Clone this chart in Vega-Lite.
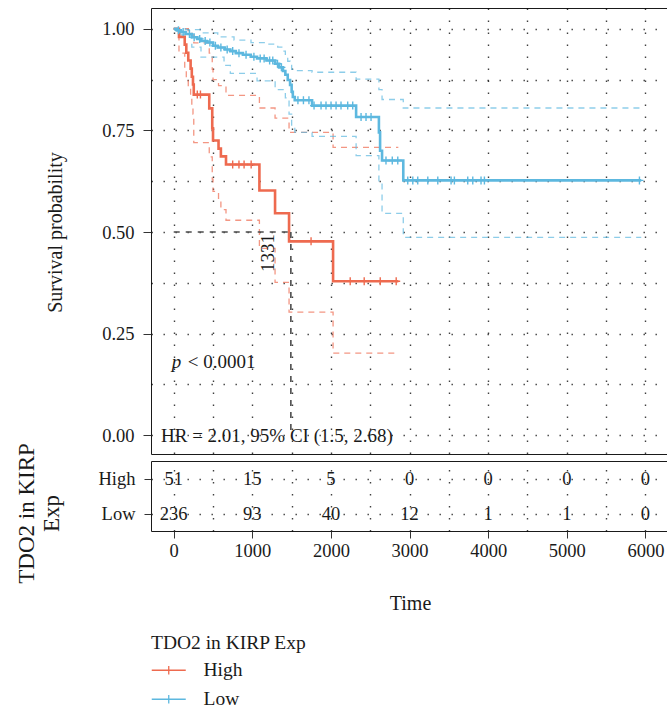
{
  "$schema": "https://vega.github.io/schema/vega-lite/v6.json",
  "background": "white",
  "padding": {"left": 14, "top": 7, "right": 0, "bottom": 0},
  "bounds": "flush",
  "spacing": 7,
  "config": {
    "font": "Liberation Serif",
    "view": {"stroke": "#1a1a1a", "strokeWidth": 1},
    "axis": {
      "labelFont": "Liberation Serif",
      "labelFontSize": 18.5,
      "labelColor": "#1a1a1a",
      "titleFont": "Liberation Serif",
      "titleFontSize": 19,
      "titleFontWeight": "normal",
      "titleColor": "#1a1a1a",
      "tickColor": "#333333",
      "tickWidth": 1,
      "domain": false,
      "gridColor": "#000000",
      "gridDash": [1.4, 10.6],
      "gridWidth": 1.4,
      "gridOpacity": 0.75
    },
    "legend": {
      "orient": "none",
      "legendX": 0,
      "legendY": 626,
      "titleFont": "Liberation Serif",
      "titleFontSize": 19.5,
      "titleFontWeight": "normal",
      "titleColor": "#1a1a1a",
      "titlePadding": 7,
      "labelFont": "Liberation Serif",
      "labelFontSize": 19.5,
      "labelColor": "#1a1a1a",
      "labelOffset": 25,
      "symbolType": "M-2,0H2M0,-0.5V0.5",
      "symbolSize": 289,
      "symbolStrokeWidth": 1.3,
      "symbolOffset": 8,
      "symbolOpacity": 1,
      "symbolFillColor": "transparent",
      "rowPadding": 8
    },
    "text": {"font": "Liberation Serif"}
  },
  "datasets": {
    "km": [
      {"g": "High", "k": "est", "t": 0, "s": 1},
      {"g": "High", "k": "est", "t": 67, "s": 0.98},
      {"g": "High", "k": "est", "t": 140, "s": 0.961},
      {"g": "High", "k": "est", "t": 160, "s": 0.941},
      {"g": "High", "k": "est", "t": 185, "s": 0.922},
      {"g": "High", "k": "est", "t": 215, "s": 0.902},
      {"g": "High", "k": "est", "t": 230, "s": 0.882},
      {"g": "High", "k": "est", "t": 245, "s": 0.863},
      {"g": "High", "k": "est", "t": 255, "s": 0.838},
      {"g": "High", "k": "est", "t": 452, "s": 0.804},
      {"g": "High", "k": "est", "t": 490, "s": 0.755},
      {"g": "High", "k": "est", "t": 500, "s": 0.725},
      {"g": "High", "k": "est", "t": 570, "s": 0.705},
      {"g": "High", "k": "est", "t": 600, "s": 0.686},
      {"g": "High", "k": "est", "t": 665, "s": 0.666},
      {"g": "High", "k": "est", "t": 1090, "s": 0.602},
      {"g": "High", "k": "est", "t": 1289, "s": 0.546},
      {"g": "High", "k": "est", "t": 1467, "s": 0.477},
      {"g": "High", "k": "est", "t": 2027, "s": 0.379},
      {"g": "High", "k": "est", "t": 2857, "s": 0.379},

      {"g": "High", "k": "upper", "t": 0, "s": 1},
      {"g": "High", "k": "upper", "t": 185, "s": 0.995},
      {"g": "High", "k": "upper", "t": 230, "s": 0.985},
      {"g": "High", "k": "upper", "t": 255, "s": 0.965},
      {"g": "High", "k": "upper", "t": 452, "s": 0.94},
      {"g": "High", "k": "upper", "t": 490, "s": 0.9},
      {"g": "High", "k": "upper", "t": 500, "s": 0.875},
      {"g": "High", "k": "upper", "t": 570, "s": 0.86},
      {"g": "High", "k": "upper", "t": 665, "s": 0.836},
      {"g": "High", "k": "upper", "t": 1090, "s": 0.805},
      {"g": "High", "k": "upper", "t": 1289, "s": 0.78},
      {"g": "High", "k": "upper", "t": 1467, "s": 0.745},
      {"g": "High", "k": "upper", "t": 2027, "s": 0.708},
      {"g": "High", "k": "upper", "t": 2857, "s": 0.708},

      {"g": "High", "k": "lower", "t": 0, "s": 1},
      {"g": "High", "k": "lower", "t": 67, "s": 0.94},
      {"g": "High", "k": "lower", "t": 140, "s": 0.9},
      {"g": "High", "k": "lower", "t": 160, "s": 0.875},
      {"g": "High", "k": "lower", "t": 185, "s": 0.855},
      {"g": "High", "k": "lower", "t": 215, "s": 0.83},
      {"g": "High", "k": "lower", "t": 230, "s": 0.81},
      {"g": "High", "k": "lower", "t": 245, "s": 0.79},
      {"g": "High", "k": "lower", "t": 255, "s": 0.72},
      {"g": "High", "k": "lower", "t": 452, "s": 0.685},
      {"g": "High", "k": "lower", "t": 490, "s": 0.63},
      {"g": "High", "k": "lower", "t": 500, "s": 0.6},
      {"g": "High", "k": "lower", "t": 570, "s": 0.58},
      {"g": "High", "k": "lower", "t": 600, "s": 0.555},
      {"g": "High", "k": "lower", "t": 665, "s": 0.529},
      {"g": "High", "k": "lower", "t": 1090, "s": 0.46},
      {"g": "High", "k": "lower", "t": 1289, "s": 0.376},
      {"g": "High", "k": "lower", "t": 1467, "s": 0.303},
      {"g": "High", "k": "lower", "t": 2027, "s": 0.202},
      {"g": "High", "k": "lower", "t": 2857, "s": 0.202},

      {"g": "Low", "k": "est", "t": 0, "s": 1},
      {"g": "Low", "k": "est", "t": 40, "s": 0.996},
      {"g": "Low", "k": "est", "t": 90, "s": 0.992},
      {"g": "Low", "k": "est", "t": 150, "s": 0.987},
      {"g": "Low", "k": "est", "t": 230, "s": 0.979},
      {"g": "Low", "k": "est", "t": 300, "s": 0.975},
      {"g": "Low", "k": "est", "t": 350, "s": 0.97},
      {"g": "Low", "k": "est", "t": 420, "s": 0.966},
      {"g": "Low", "k": "est", "t": 500, "s": 0.958},
      {"g": "Low", "k": "est", "t": 560, "s": 0.954},
      {"g": "Low", "k": "est", "t": 650, "s": 0.949},
      {"g": "Low", "k": "est", "t": 720, "s": 0.945},
      {"g": "Low", "k": "est", "t": 790, "s": 0.94},
      {"g": "Low", "k": "est", "t": 880, "s": 0.936},
      {"g": "Low", "k": "est", "t": 980, "s": 0.931},
      {"g": "Low", "k": "est", "t": 1060, "s": 0.927},
      {"g": "Low", "k": "est", "t": 1180, "s": 0.922},
      {"g": "Low", "k": "est", "t": 1290, "s": 0.914},
      {"g": "Low", "k": "est", "t": 1340, "s": 0.905},
      {"g": "Low", "k": "est", "t": 1390, "s": 0.896},
      {"g": "Low", "k": "est", "t": 1420, "s": 0.887},
      {"g": "Low", "k": "est", "t": 1450, "s": 0.874},
      {"g": "Low", "k": "est", "t": 1480, "s": 0.862},
      {"g": "Low", "k": "est", "t": 1500, "s": 0.845},
      {"g": "Low", "k": "est", "t": 1515, "s": 0.832},
      {"g": "Low", "k": "est", "t": 1540, "s": 0.824},
      {"g": "Low", "k": "est", "t": 1760, "s": 0.811},
      {"g": "Low", "k": "est", "t": 2320, "s": 0.783},
      {"g": "Low", "k": "est", "t": 2610, "s": 0.745},
      {"g": "Low", "k": "est", "t": 2625, "s": 0.7},
      {"g": "Low", "k": "est", "t": 2650, "s": 0.676},
      {"g": "Low", "k": "est", "t": 2920, "s": 0.627},
      {"g": "Low", "k": "est", "t": 5947, "s": 0.627},

      {"g": "Low", "k": "upper", "t": 0, "s": 1},
      {"g": "Low", "k": "upper", "t": 150, "s": 0.998},
      {"g": "Low", "k": "upper", "t": 347, "s": 0.99},
      {"g": "Low", "k": "upper", "t": 560, "s": 0.98},
      {"g": "Low", "k": "upper", "t": 767, "s": 0.972},
      {"g": "Low", "k": "upper", "t": 983, "s": 0.966},
      {"g": "Low", "k": "upper", "t": 1196, "s": 0.962},
      {"g": "Low", "k": "upper", "t": 1323, "s": 0.955},
      {"g": "Low", "k": "upper", "t": 1390, "s": 0.945},
      {"g": "Low", "k": "upper", "t": 1420, "s": 0.935},
      {"g": "Low", "k": "upper", "t": 1450, "s": 0.92},
      {"g": "Low", "k": "upper", "t": 1480, "s": 0.91},
      {"g": "Low", "k": "upper", "t": 1500, "s": 0.9},
      {"g": "Low", "k": "upper", "t": 1540, "s": 0.897},
      {"g": "Low", "k": "upper", "t": 1760, "s": 0.893},
      {"g": "Low", "k": "upper", "t": 2320, "s": 0.876},
      {"g": "Low", "k": "upper", "t": 2610, "s": 0.85},
      {"g": "Low", "k": "upper", "t": 2650, "s": 0.826},
      {"g": "Low", "k": "upper", "t": 2920, "s": 0.805},
      {"g": "Low", "k": "upper", "t": 5947, "s": 0.805},

      {"g": "Low", "k": "lower", "t": 0, "s": 1},
      {"g": "Low", "k": "lower", "t": 90, "s": 0.985},
      {"g": "Low", "k": "lower", "t": 230, "s": 0.955},
      {"g": "Low", "k": "lower", "t": 347, "s": 0.93},
      {"g": "Low", "k": "lower", "t": 640, "s": 0.91},
      {"g": "Low", "k": "lower", "t": 720, "s": 0.89},
      {"g": "Low", "k": "lower", "t": 1060, "s": 0.872},
      {"g": "Low", "k": "lower", "t": 1290, "s": 0.85},
      {"g": "Low", "k": "lower", "t": 1420, "s": 0.83},
      {"g": "Low", "k": "lower", "t": 1467, "s": 0.79},
      {"g": "Low", "k": "lower", "t": 1500, "s": 0.757},
      {"g": "Low", "k": "lower", "t": 1540, "s": 0.745},
      {"g": "Low", "k": "lower", "t": 1760, "s": 0.735},
      {"g": "Low", "k": "lower", "t": 2320, "s": 0.688},
      {"g": "Low", "k": "lower", "t": 2610, "s": 0.62},
      {"g": "Low", "k": "lower", "t": 2650, "s": 0.546},
      {"g": "Low", "k": "lower", "t": 2920, "s": 0.487},
      {"g": "Low", "k": "lower", "t": 5947, "s": 0.487}
    ],
    "censored": [
      {"g": "High", "t": 300, "s": 0.838},
      {"g": "High", "t": 340, "s": 0.838},
      {"g": "High", "t": 750, "s": 0.666},
      {"g": "High", "t": 830, "s": 0.666},
      {"g": "High", "t": 895, "s": 0.666},
      {"g": "High", "t": 985, "s": 0.666},
      {"g": "High", "t": 1747, "s": 0.477},
      {"g": "High", "t": 2245, "s": 0.379},
      {"g": "High", "t": 2423, "s": 0.379},
      {"g": "High", "t": 2627, "s": 0.379},
      {"g": "High", "t": 2830, "s": 0.379},
      {"g": "Low", "t": 60, "s": 0.996},
      {"g": "Low", "t": 120, "s": 0.992},
      {"g": "Low", "t": 200, "s": 0.987},
      {"g": "Low", "t": 260, "s": 0.979},
      {"g": "Low", "t": 330, "s": 0.975},
      {"g": "Low", "t": 400, "s": 0.97},
      {"g": "Low", "t": 460, "s": 0.966},
      {"g": "Low", "t": 530, "s": 0.958},
      {"g": "Low", "t": 600, "s": 0.954},
      {"g": "Low", "t": 680, "s": 0.949},
      {"g": "Low", "t": 750, "s": 0.945},
      {"g": "Low", "t": 830, "s": 0.94},
      {"g": "Low", "t": 920, "s": 0.936},
      {"g": "Low", "t": 1020, "s": 0.931},
      {"g": "Low", "t": 1100, "s": 0.927},
      {"g": "Low", "t": 1150, "s": 0.927},
      {"g": "Low", "t": 1220, "s": 0.922},
      {"g": "Low", "t": 1260, "s": 0.922},
      {"g": "Low", "t": 1320, "s": 0.914},
      {"g": "Low", "t": 1370, "s": 0.905},
      {"g": "Low", "t": 1580, "s": 0.824},
      {"g": "Low", "t": 1650, "s": 0.824},
      {"g": "Low", "t": 1720, "s": 0.824},
      {"g": "Low", "t": 1785, "s": 0.811},
      {"g": "Low", "t": 1874, "s": 0.811},
      {"g": "Low", "t": 1937, "s": 0.811},
      {"g": "Low", "t": 2001, "s": 0.811},
      {"g": "Low", "t": 2065, "s": 0.811},
      {"g": "Low", "t": 2128, "s": 0.811},
      {"g": "Low", "t": 2213, "s": 0.811},
      {"g": "Low", "t": 2277, "s": 0.811},
      {"g": "Low", "t": 2383, "s": 0.783},
      {"g": "Low", "t": 2446, "s": 0.783},
      {"g": "Low", "t": 2510, "s": 0.783},
      {"g": "Low", "t": 2700, "s": 0.676},
      {"g": "Low", "t": 2780, "s": 0.676},
      {"g": "Low", "t": 2850, "s": 0.676},
      {"g": "Low", "t": 2977, "s": 0.627},
      {"g": "Low", "t": 3041, "s": 0.627},
      {"g": "Low", "t": 3104, "s": 0.627},
      {"g": "Low", "t": 3232, "s": 0.627},
      {"g": "Low", "t": 3359, "s": 0.627},
      {"g": "Low", "t": 3528, "s": 0.627},
      {"g": "Low", "t": 3570, "s": 0.627},
      {"g": "Low", "t": 3740, "s": 0.627},
      {"g": "Low", "t": 3804, "s": 0.627},
      {"g": "Low", "t": 3909, "s": 0.627},
      {"g": "Low", "t": 3952, "s": 0.627},
      {"g": "Low", "t": 5924, "s": 0.627}
    ],
    "median": [
      {"t": 0, "t2": 1490, "s": 0.5, "s2": 0.5},
      {"t": 1490, "t2": 1490, "s": 0.5, "s2": 0}
    ],
    "medianLabel": [
      {"t": 1331, "s": 0.5}
    ],
    "risk": [
      {"g": "High", "t": 0, "n": 51},
      {"g": "High", "t": 1000, "n": 15},
      {"g": "High", "t": 2000, "n": 5},
      {"g": "High", "t": 3000, "n": 0},
      {"g": "High", "t": 4000, "n": 0},
      {"g": "High", "t": 5000, "n": 0},
      {"g": "High", "t": 6000, "n": 0},
      {"g": "Low", "t": 0, "n": 236},
      {"g": "Low", "t": 1000, "n": 93},
      {"g": "Low", "t": 2000, "n": 40},
      {"g": "Low", "t": 3000, "n": 12},
      {"g": "Low", "t": 4000, "n": 1},
      {"g": "Low", "t": 5000, "n": 1},
      {"g": "Low", "t": 6000, "n": 0}
    ]
  },
  "vconcat": [
    {
      "width": 518,
      "height": 446,
      "encoding": {
        "x": {
          "field": "t",
          "type": "quantitative",
          "scale": {"domain": [-289, 6300], "nice": false, "zero": false},
          "axis": {
            "values": [0, 500, 1000, 1500, 2000, 2500, 3000, 3500, 4000, 4500, 5000, 5500, 6000],
            "labels": false,
            "ticks": false,
            "title": null,
            "grid": true
          }
        },
        "y": {
          "field": "s",
          "type": "quantitative",
          "scale": {"domain": [-0.046, 1.051], "nice": false, "zero": false},
          "axis": {
            "values": [0, 0.125, 0.25, 0.375, 0.5, 0.625, 0.75, 0.875, 1],
            "labelExpr": "datum.value % 0.25 == 0 ? format(datum.value, '.2f') : ''",
            "tickSize": 8,
            "tickOpacity": {"condition": {"test": "datum.value % 0.25 != 0", "value": 0}, "value": 1},
            "labelPadding": 9,
            "grid": true,
            "title": "Survival probability",
            "titleFontSize": 20,
            "titleX": -106,
            "titleY": 224,
            "titleBaseline": "top",
            "titleAngle": 270
          }
        },
        "color": {
          "field": "g",
          "type": "nominal",
          "scale": {"domain": ["High", "Low"], "range": ["#EE6A4F", "#5DB8DF"]},
          "title": "TDO2 in KIRP Exp"
        }
      },
      "layer": [
        {
          "data": {"name": "km"},
          "transform": [{"filter": "datum.k != 'est'"}],
          "mark": {"type": "line", "interpolate": "step-after", "strokeWidth": 1.3, "strokeDash": [6, 5], "opacity": 0.7},
          "encoding": {
            "detail": {"field": "k"}
          }
        },
        {
          "data": {"name": "km"},
          "transform": [{"filter": "datum.k == 'est'"}],
          "mark": {"type": "line", "interpolate": "step-after", "strokeWidth": 2.6}
        },
        {
          "data": {"name": "censored"},
          "mark": {"type": "point", "shape": "M-1,0H1M0,-1V1", "filled": false, "size": 64, "strokeWidth": 1.4, "opacity": 1}
        },
        {
          "data": {"name": "median"},
          "mark": {"type": "rule", "strokeDash": [6, 6], "strokeWidth": 1.6},
          "encoding": {
            "color": {"value": "#4d4d4d"},
            "x2": {"field": "t2"},
            "y2": {"field": "s2"}
          }
        },
        {
          "data": {"name": "medianLabel"},
          "mark": {"type": "text", "angle": 270, "align": "right", "baseline": "bottom", "fontSize": 19, "dx": -2},
          "encoding": {
            "color": {"value": "#1a1a1a"},
            "text": {"field": "t", "type": "quantitative", "format": "d"}
          }
        },
        {
          "data": {"values": [{"t": 0, "s": 0.1655}]},
          "mark": {"type": "text", "align": "left", "baseline": "alphabetic", "fontSize": 19, "fontStyle": "italic", "dx": -2},
          "encoding": {"color": {"value": "#1a1a1a"}, "text": {"value": "p"}}
        },
        {
          "data": {"values": [{"t": 0, "s": 0.1655}]},
          "mark": {"type": "text", "align": "left", "baseline": "alphabetic", "fontSize": 19, "dx": 14},
          "encoding": {"color": {"value": "#1a1a1a"}, "text": {"value": "< 0.0001"}}
        },
        {
          "data": {"values": [{"t": -162, "s": -0.017}]},
          "mark": {"type": "text", "align": "left", "baseline": "alphabetic", "fontSize": 19},
          "encoding": {"color": {"value": "#1a1a1a"}, "text": {"value": "HR = 2.01, 95% CI (1.5, 2.68)"}}
        }
      ]
    },
    {
      "width": 518,
      "height": 70,
      "data": {"name": "risk"},
      "mark": {"type": "text", "fontSize": 18.5, "color": "#1a1a1a", "baseline": "middle"},
      "encoding": {
        "x": {
          "field": "t",
          "type": "quantitative",
          "scale": {"domain": [-289, 6300], "nice": false, "zero": false},
          "axis": {
            "values": [0, 500, 1000, 1500, 2000, 2500, 3000, 3500, 4000, 4500, 5000, 5500, 6000],
            "format": "d",
            "labelExpr": "datum.value % 1000 == 0 ? datum.label : ''",
            "tickSize": 7,
            "tickOpacity": {"condition": {"test": "datum.value % 1000 != 0", "value": 0}, "value": 1},
            "labelPadding": 3,
            "grid": true,
            "title": "Time",
            "titleFontSize": 20,
            "titlePadding": 34
          }
        },
        "y": {
          "field": "g",
          "type": "nominal",
          "scale": {"type": "point", "domain": ["High", "Low"], "padding": 0.5},
          "axis": {
            "tickSize": 7,
            "labelPadding": 9,
            "grid": true,
            "title": ["TDO2 in KIRP", "Exp"],
            "titleFontSize": 23,
            "titleX": -136,
            "titleY": 52,
            "titleBaseline": "top",
            "titleAngle": 270,
            "titleLineHeight": 25
          }
        },
        "text": {"field": "n", "type": "quantitative"}
      }
    }
  ]
}
